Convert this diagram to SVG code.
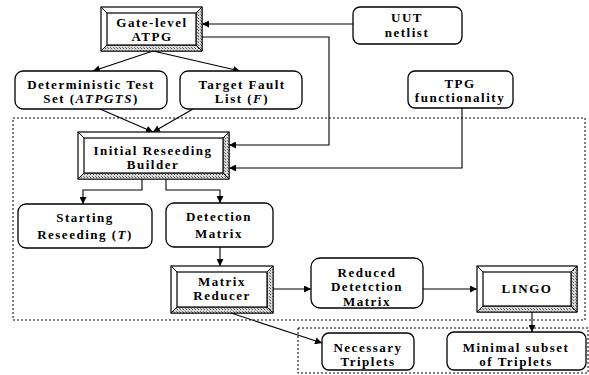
<svg xmlns="http://www.w3.org/2000/svg" width="589" height="375" viewBox="0 0 589 375">
<defs>
<pattern id="hatch" width="3" height="3" patternUnits="userSpaceOnUse">
<rect width="3" height="3" fill="#d8d8d8"/>
<rect width="1" height="1" fill="#555"/>
<rect x="2" y="2" width="1" height="1" fill="#777"/>
</pattern>
<marker id="ah" viewBox="0 0 10 10" refX="10" refY="5" markerWidth="7" markerHeight="7" markerUnits="userSpaceOnUse" orient="auto">
<path d="M0,0 L10,5 L0,10 z" fill="#000"/>
</marker>
</defs>
<style>
text{font-family:"Liberation Serif","Times New Roman",serif;font-weight:bold;font-size:13px;letter-spacing:1.5px;text-anchor:middle;fill:#000}
.it{font-style:italic}
.rbox{fill:#fff;stroke:#000;stroke-width:1.3}
.bev{fill:#fff;stroke:#000;stroke-width:1.2}
.hat{fill:url(#hatch);stroke:#000;stroke-width:0.8}
.ln{fill:none;stroke:#000;stroke-width:1}
.con{fill:none;stroke:#000;stroke-width:1.1;marker-end:url(#ah)}
.dot{fill:none;stroke:#000;stroke-width:1;stroke-dasharray:2,2}
</style>
<rect width="589" height="375" fill="#fff"/>
<g id="regions">
<rect class="dot" x="13" y="118" width="572" height="202"/>
<rect class="dot" x="298" y="328" width="290" height="45"/>
</g>
<g id="connectors">
<path class="con" d="M353,24 L202,24"/>
<path class="con" d="M202,37 L329,37 L329,145 L229,145"/>
<path class="con" d="M462,108 L462,168 L229,168"/>
<path class="con" d="M153,51 L93,71"/>
<path class="con" d="M153,51 L240,71"/>
<path class="con" d="M100,109 L153,132"/>
<path class="con" d="M193,109 L153,132"/>
<path class="con" d="M142,179 L142,190 L83,190 L83,204"/>
<path class="con" d="M166,179 L166,190 L220,190 L220,203"/>
<path class="con" d="M220,247 L220,266"/>
<path class="con" d="M273,289 L311,289"/>
<path class="con" d="M423,289 L477,289"/>
<path class="con" d="M532,312 L532,332"/>
<path class="con" d="M228,312 L322,343"/>
</g>
<g id="gate-level-atpg">
<rect class="bev" x="101" y="7" width="101" height="44"/>
<path class="hat" d="M202,7 L202,51 L196,45 L196,13 z"/>
<path class="hat" d="M101,51 L202,51 L196,45 L107,45 z"/>
<rect class="bev" x="107" y="13" width="89" height="32"/>
<path class="ln" d="M101,7 L107,13 M202,7 L196,13 M101,51 L107,45 M202,51 L196,45"/>
<text x="152" y="26.5">Gate-level</text>
<text x="152" y="40.5">ATPG</text>
</g>
<g id="uut-netlist">
<rect class="rbox" x="353" y="7" width="109" height="37" rx="7"/>
<text x="407" y="22">UUT</text>
<text x="407" y="36.5">netlist</text>
</g>
<g id="deterministic-test-set">
<rect class="rbox" x="15" y="71" width="152" height="38" rx="8"/>
<text x="91" y="88.5">Deterministic Test</text>
<text x="91" y="102.5">Set (<tspan class="it">ATPGTS</tspan>)</text>
</g>
<g id="target-fault-list">
<rect class="rbox" x="180" y="71" width="122" height="38" rx="8"/>
<text x="242" y="88.5">Target Fault</text>
<text x="242" y="102.5">List (<tspan class="it">F</tspan>)</text>
</g>
<g id="tpg-functionality">
<rect class="rbox" x="408" y="71" width="105" height="37" rx="7"/>
<text x="460" y="87.5">TPG</text>
<text x="460" y="101.5">functionality</text>
</g>
<g id="initial-reseeding-builder">
<rect class="bev" x="78" y="132" width="151" height="47"/>
<path class="hat" d="M229,132 L229,179 L223,173 L223,138 z"/>
<path class="hat" d="M78,179 L229,179 L223,173 L84,173 z"/>
<rect class="bev" x="84" y="138" width="139" height="35"/>
<path class="ln" d="M78,132 L84,138 M229,132 L223,138 M78,179 L84,173 M229,179 L223,173"/>
<text x="153" y="154.5">Initial Reseeding</text>
<text x="153" y="168.5">Builder</text>
</g>
<g id="starting-reseeding">
<rect class="rbox" x="18" y="204" width="134" height="44" rx="8"/>
<text x="85" y="221.5">Starting</text>
<text x="85" y="239">Reseeding (<tspan class="it">T</tspan>)</text>
</g>
<g id="detection-matrix">
<rect class="rbox" x="166" y="203" width="107" height="44" rx="8"/>
<text x="219" y="220.5">Detection</text>
<text x="219" y="238">Matrix</text>
</g>
<g id="matrix-reducer">
<rect class="bev" x="171" y="266" width="102" height="47"/>
<path class="hat" d="M273,266 L273,313 L267,307 L267,272 z"/>
<path class="hat" d="M171,313 L273,313 L267,307 L177,307 z"/>
<rect class="bev" x="177" y="272" width="90" height="35"/>
<path class="ln" d="M171,266 L177,272 M273,266 L267,272 M171,313 L177,307 M273,313 L267,307"/>
<text x="222" y="286">Matrix</text>
<text x="222" y="300">Reducer</text>
</g>
<g id="reduced-detection-matrix">
<rect class="rbox" x="311" y="258" width="112" height="50" rx="9"/>
<text x="367" y="276.5">Reduced</text>
<text x="367" y="291">Detetction</text>
<text x="367" y="305.5">Matrix</text>
</g>
<g id="lingo">
<rect class="bev" x="477" y="266" width="100" height="46"/>
<path class="hat" d="M577,266 L577,312 L571,306 L571,272 z"/>
<path class="hat" d="M477,312 L577,312 L571,306 L483,306 z"/>
<rect class="bev" x="483" y="272" width="88" height="34"/>
<path class="ln" d="M477,266 L483,272 M577,266 L571,272 M477,312 L483,306 M577,312 L571,306"/>
<text x="527" y="293">LINGO</text>
</g>
<g id="necessary-triplets">
<rect class="rbox" x="322" y="333" width="92" height="37" rx="7"/>
<text x="368" y="351.5">Necessary</text>
<text x="368" y="366">Triplets</text>
</g>
<g id="minimal-subset">
<rect class="rbox" x="447" y="332" width="139" height="38" rx="7"/>
<text x="516" y="351.5">Minimal subset</text>
<text x="516" y="366">of Triplets</text>
</g>
</svg>
